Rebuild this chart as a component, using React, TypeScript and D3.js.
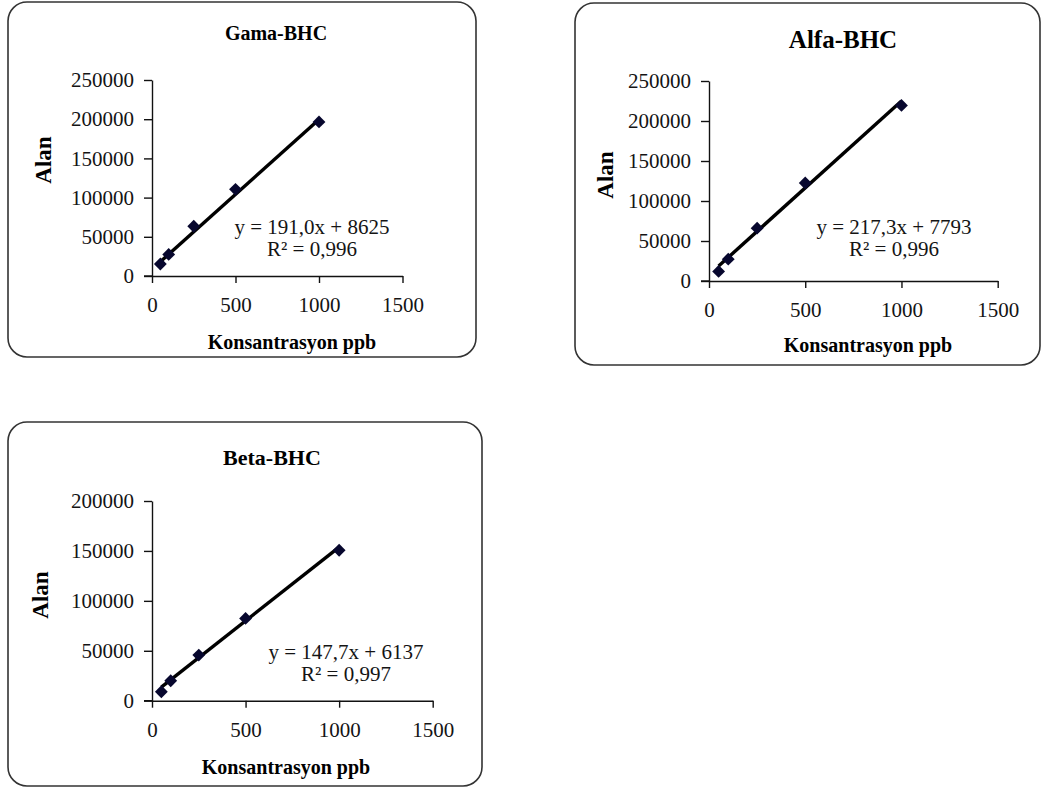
import * as d3 from 'd3';
import { useEffect, useRef } from 'react';

// chart values
const titles = ['Gama-BHC', 'Alfa-BHC', 'Beta-BHC'];
const concentrations = [50, 100, 250, 500, 1000];
const gamaArea = [15300, 27500, 63500, 110500, 196500];
const alfaArea = [12000, 27300, 66000, 122500, 219500];
const betaArea = [9000, 20000, 45700, 82400, 150700];
const slopes = [191.0, 217.3, 147.7];
const intercepts = [8625, 7793, 6137];
const slopeLabels = ['191,0', '217,3', '147,7'];
const r2Labels = ['0,996', '0,996', '0,997'];
const xTicks = [0, 500, 1000, 1500];
const yTicksWide = [0, 50000, 100000, 150000, 200000, 250000];
const yTicksNarrow = [0, 50000, 100000, 150000, 200000];
const xLabel = 'Konsantrasyon ppb';
const yLabel = 'Alan';

// panel layout (pixels)
const panels = [
  {
    values: gamaArea, yTicks: yTicksWide,
    frame: { x: 8, y: 2, w: 468, h: 355 },
    plot: { left: 152, right: 402.5, bottom: 276, top: 80 },
    title: { x: 276, y: 33, size: 20 },
    yLab: { x: 43, y: 160 },
    xLab: { x: 292, y: 342 },
    eq: { x: 312, y: 227 },
  },
  {
    values: alfaArea, yTicks: yTicksWide,
    frame: { x: 575, y: 3, w: 465, h: 362 },
    plot: { left: 709, right: 997.7, bottom: 281, top: 81 },
    title: { x: 843, y: 39, size: 25 },
    yLab: { x: 605, y: 175 },
    xLab: { x: 868, y: 345 },
    eq: { x: 894, y: 227 },
  },
  {
    values: betaArea, yTicks: yTicksNarrow,
    frame: { x: 8, y: 422, w: 474, h: 364 },
    plot: { left: 152, right: 432.7, bottom: 700.7, top: 501 },
    title: { x: 272, y: 457, size: 22 },
    yLab: { x: 40, y: 595 },
    xLab: { x: 286, y: 767 },
    eq: { x: 346, y: 652 },
  },
];

const font = '"Liberation Serif", "Times New Roman", serif';

const App = () => {
  const ref = useRef<SVGSVGElement>(null);

  useEffect(() => {
    const svg = d3.select(ref.current);
    svg.selectAll('*').remove();

    panels.forEach((p, i) => {
      const g = svg.append('g');

      // rounded frame
      g.append('rect')
        .attr('x', p.frame.x).attr('y', p.frame.y)
        .attr('width', p.frame.w).attr('height', p.frame.h)
        .attr('rx', 19).attr('ry', 19)
        .attr('fill', 'white')
        .attr('stroke', '#333')
        .attr('stroke-width', 1.6);

      const x = d3.scaleLinear().domain([0, 1500]).range([p.plot.left, p.plot.right]);
      const yMax = p.yTicks[p.yTicks.length - 1];
      const y = d3.scaleLinear().domain([0, yMax]).range([p.plot.bottom, p.plot.top]);

      // y axis
      const yAxis = g.append('g')
        .attr('transform', `translate(${p.plot.left},0)`)
        .call(d3.axisLeft(y).tickValues(p.yTicks).tickSize(8).tickSizeOuter(0).tickPadding(10).tickFormat(d3.format('d')));

      // x axis
      const xAxis = g.append('g')
        .attr('transform', `translate(0,${p.plot.bottom})`)
        .call(d3.axisBottom(x).tickValues(xTicks).tickSize(7).tickSizeOuter(0).tickPadding(14).tickFormat(d3.format('d')));

      [yAxis, xAxis].forEach(a => {
        a.select('.domain').attr('stroke', '#111').attr('stroke-width', 1.4);
        a.selectAll('.tick line').attr('stroke', '#111').attr('stroke-width', 1.4);
        a.selectAll('.tick text')
          .attr('fill', '#141414')
          .style('font-family', font)
          .style('font-size', '21px');
      });
      // x axis also runs left to the y tick length
      g.append('line')
        .attr('x1', p.plot.left - 8).attr('x2', p.plot.left)
        .attr('y1', p.plot.bottom).attr('y2', p.plot.bottom)
        .attr('stroke', '#111').attr('stroke-width', 1.4);

      // trendline
      const xs = d3.extent(concentrations) as [number, number];
      const line = d3.line<number>()
        .x(d => x(d))
        .y(d => y(slopes[i] * d + intercepts[i]));
      g.append('path')
        .datum(xs)
        .attr('d', line)
        .attr('fill', 'none')
        .attr('stroke', '#000')
        .attr('stroke-width', 3.4);

      // points
      g.selectAll('path.pt')
        .data(concentrations.map((c, j) => ({ c, v: p.values[j] })))
        .enter().append('path')
        .attr('class', 'pt')
        .attr('d', d3.symbol(d3.symbolDiamond2, 105)())
        .attr('transform', d => `translate(${x(d.c)},${y(d.v)})`)
        .attr('fill', '#07072e');

      // title
      g.append('text')
        .attr('x', p.title.x).attr('y', p.title.y)
        .attr('text-anchor', 'middle').attr('dominant-baseline', 'central')
        .style('font-family', font).style('font-weight', 'bold')
        .style('font-size', `${p.title.size}px`)
        .text(titles[i]);

      // axis titles
      g.append('text')
        .attr('transform', `translate(${p.yLab.x},${p.yLab.y}) rotate(-90)`)
        .attr('text-anchor', 'middle').attr('dominant-baseline', 'central')
        .style('font-family', font).style('font-weight', 'bold')
        .style('font-size', '23px')
        .text(yLabel);
      g.append('text')
        .attr('x', p.xLab.x).attr('y', p.xLab.y)
        .attr('text-anchor', 'middle').attr('dominant-baseline', 'central')
        .style('font-family', font).style('font-weight', 'bold')
        .style('font-size', '20px')
        .text(xLabel);

      // equation
      const eq = g.append('text')
        .attr('text-anchor', 'middle')
        .attr('fill', '#141414')
        .style('font-family', font)
        .style('font-size', '21px');
      eq.append('tspan')
        .attr('x', p.eq.x).attr('y', p.eq.y).attr('dominant-baseline', 'central')
        .text(`y = ${slopeLabels[i]}x + ${intercepts[i]}`);
      eq.append('tspan')
        .attr('x', p.eq.x).attr('y', p.eq.y + 22).attr('dominant-baseline', 'central')
        .text(`R² = ${r2Labels[i]}`);
    });
  }, []);

  return (
    <svg ref={ref} width={1042} height={790}
      style={{ position: 'absolute', left: 0, top: 0, background: 'white' }} />
  );
};

export default App;
